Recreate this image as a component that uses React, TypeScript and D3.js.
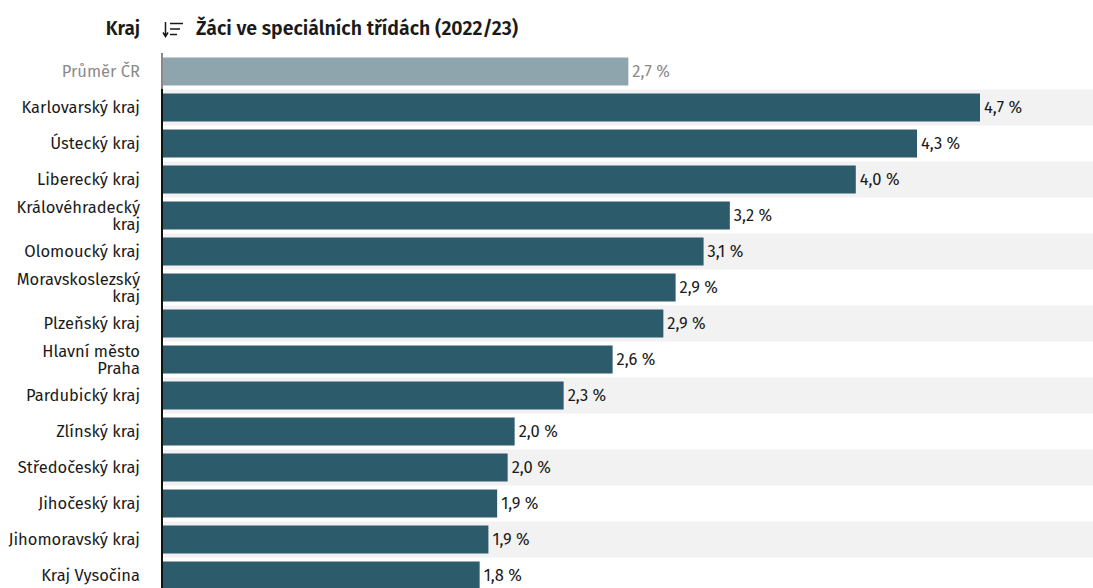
import React, { useEffect, useRef } from 'react';
import * as d3 from 'd3';

const regions = [
  'Průměr ČR',
  'Karlovarský kraj',
  'Ústecký kraj',
  'Liberecký kraj',
  'Královéhradecký kraj',
  'Olomoucký kraj',
  'Moravskoslezský kraj',
  'Plzeňský kraj',
  'Hlavní město Praha',
  'Pardubický kraj',
  'Zlínský kraj',
  'Středočeský kraj',
  'Jihočeský kraj',
  'Jihomoravský kraj',
  'Kraj Vysočina',
];

// share of pupils in special classes, %
const shares = [2.66, 4.67, 4.31, 3.96, 3.24, 3.09, 2.93, 2.86, 2.57, 2.29, 2.01, 1.97, 1.91, 1.86, 1.81];

// labels that wrap onto two lines
const labelLines: Record<string, string[]> = {
  'Královéhradecký kraj': ['Královéhradecký', 'kraj'],
  'Moravskoslezský kraj': ['Moravskoslezský', 'kraj'],
  'Hlavní město Praha': ['Hlavní město', 'Praha'],
};

const headerLeft = 'Kraj';
const headerTitle = 'Žáci ve speciálních třídách (2022/23)';

const W = 1093;
const H = 588;
const FONT = '"Fira Sans", "Noto Sans", sans-serif';

const App: React.FC = () => {
  const svgRef = useRef<SVGSVGElement>(null);

  useEffect(() => {
    document.body.style.margin = '0';
    if (!svgRef.current) return;
    const svg = d3.select(svgRef.current);
    svg.selectAll('*').remove();

    const left = 163;
    const top = 53;
    const rowH = 36;

    const y = d3.scaleBand<string>()
      .domain(regions)
      .range([top, top + rowH * regions.length]);

    const x = d3.scaleLinear()
      .domain([0, d3.max(shares) as number])
      .range([0, 817]);

    const fmt = (v: number) => d3.format('.1f')(v).replace('.', ',') + ' %';

    const g = svg.append('g');

    // stripes
    regions.forEach((r, i) => {
      if (i % 2 === 1) {
        g.append('rect')
          .attr('x', left)
          .attr('y', (y(r) as number) + 0.5)
          .attr('width', W - left)
          .attr('height', rowH)
          .attr('fill', '#f2f2f2');
      }
    });

    regions.forEach((r, i) => {
      const yc = (y(r) as number) + rowH / 2 + 0.5;
      const avg = i === 0;
      g.append('rect')
        .attr('x', left)
        .attr('y', yc - 14)
        .attr('width', x(shares[i]))
        .attr('height', 28)
        .attr('fill', avg ? '#8ea5ae' : '#2c5b6b');

      g.append('text')
        .attr('x', left + x(shares[i]) + 4)
        .attr('y', yc)
        .attr('dy', '0.35em')
        .attr('fill', avg ? '#8a8a8a' : '#1a1a1a')
        .style('font-family', FONT)
        .style('font-size', '16.5px')
        .text(fmt(shares[i]));

      const lines = labelLines[r] || [r];
      const lh = 17;
      lines.forEach((ln, k) => {
        g.append('text')
          .attr('x', 140)
          .attr('y', yc + (k - (lines.length - 1) / 2) * lh)
          .attr('dy', '0.35em')
          .attr('text-anchor', 'end')
          .attr('fill', avg ? '#8a8a8a' : '#1a1a1a')
          .style('font-family', FONT)
          .style('font-size', '16.5px')
          .text(ln);
      });

      // axis segment
      g.append('line')
        .attr('x1', left - 1)
        .attr('x2', left - 1)
        .attr('y1', y(r) as number)
        .attr('y2', (y(r) as number) + rowH)
        .attr('stroke', avg ? '#888' : '#111')
        .attr('stroke-width', 2);
    });

    // header
    svg.append('text')
      .attr('x', 140)
      .attr('y', 28)
      .attr('dy', '0.35em')
      .attr('text-anchor', 'end')
      .attr('fill', '#1a1a1a')
      .style('font-family', FONT)
      .style('font-size', '19px')
      .style('font-weight', 600)
      .text(headerLeft);

    // sort icon
    const icon = svg.append('g').attr('transform', 'translate(163,21)');
    icon.append('path')
      .attr('d', 'M2.5,1 V15 M0,11.5 L2.5,15.5 L5,11.5')
      .attr('fill', 'none')
      .attr('stroke', '#1a1a1a')
      .attr('stroke-width', 1.5);
    [[7, 20, 2.5], [7, 17, 8], [7, 14, 13.5]].forEach(([x1, x2, yy]) => {
      icon.append('line')
        .attr('x1', x1).attr('x2', x2)
        .attr('y1', yy).attr('y2', yy)
        .attr('stroke', '#1a1a1a')
        .attr('stroke-width', 1.5);
    });

    svg.append('text')
      .attr('x', 196)
      .attr('y', 28)
      .attr('dy', '0.35em')
      .attr('fill', '#1a1a1a')
      .style('font-family', FONT)
      .style('font-size', '19.5px')
      .style('font-weight', 600)
      .text(headerTitle);
  }, []);

  return <svg ref={svgRef} width={W} height={H} style={{ display: 'block', background: '#fff' }} />;
};

export default App;
